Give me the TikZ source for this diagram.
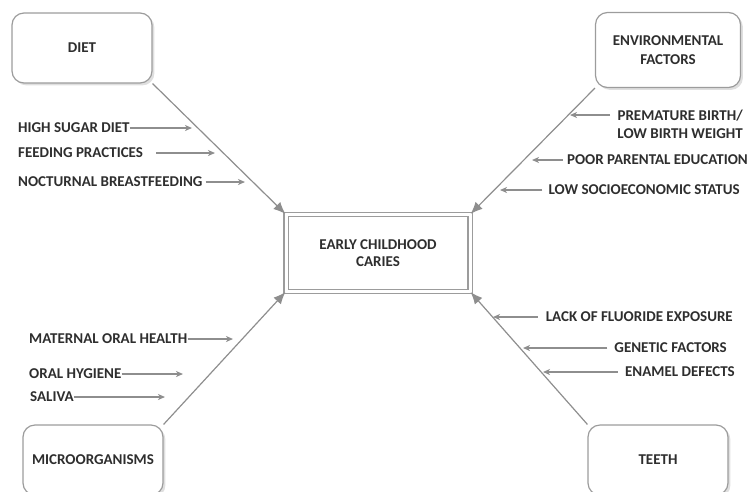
\documentclass[tikz,border=0pt]{standalone}
\usepackage{fontspec}
\setmainfont{Carlito}
\usetikzlibrary{shapes,arrows.meta,positioning,calc,shadows}

\definecolor{txtgray}{HTML}{2E2E2E}
\definecolor{arrgray}{HTML}{8E8E8E}
\definecolor{boxgray}{HTML}{9C9C9C}

\tikzset{
  factorbox/.style={draw=boxgray, line width=1.2pt, rounded corners=12pt, fill=white,
    minimum width=140pt, minimum height=70pt, align=center, text=txtgray,
    font=\bfseries\fontsize{15}{19}\selectfont, drop shadow={opacity=0.25}},
  centerbox/.style={draw=boxgray, line width=1.2pt, double=white, double distance=3pt,
    minimum width=184pt, minimum height=77pt, align=center, text=txtgray,
    font=\bfseries\fontsize{15}{17}\selectfont},
  factlabel/.style={inner sep=0pt, text=txtgray, font=\bfseries\fontsize{15}{18}\selectfont},
  factarrow/.style={draw=arrgray, line width=1.5pt, -{Stealth[length=7pt,width=6pt,inset=2pt]}},
  mainarrow/.style={draw=arrgray, line width=1.2pt, -{Latex[length=12pt,width=10pt]}}
}

\begin{document}
\begin{tikzpicture}[x=1pt, y=-1pt]
    \clip (0,0) rectangle (749,491);

    % boxes
    \node[factorbox] (diet) at (82,48) {DIET};
    \node[factorbox, minimum width=145pt, minimum height=75pt] (env) at (668,50) {ENVIRONMENTAL\\FACTORS};
    \node[centerbox] (ecc) at (378,253) {EARLY CHILDHOOD\\CARIES};
    \node[factorbox] (micro) at (93,460) {MICROORGANISMS};
    \node[factorbox] (teeth) at (658,460) {TEETH};

    \draw[mainarrow] (diet.south east) -- (ecc.north west);
    \draw[mainarrow] (env.south west) -- (ecc.north east);
    \draw[mainarrow] (micro.north east) -- (ecc.south west);
    \draw[mainarrow] (teeth.north west) -- (ecc.south east);

    % diet
    \node[factlabel, anchor=west] (hsd) at (18,128) {HIGH SUGAR DIET};
    \node[factlabel, anchor=west] (fp) at (18,153) {FEEDING PRACTICES};
    \node[factlabel, anchor=west] (nb) at (18,182) {NOCTURNAL BREASTFEEDING};
    \coordinate (hsd-t) at (192,128);
    \coordinate (fp-t) at (215,153);
    \coordinate (nb-t) at (245,182);
    \draw[factarrow] (hsd.east) -- (hsd-t);
    \draw[factarrow] ([xshift=13pt]fp.east) -- (fp-t);
    \draw[factarrow] ([xshift=3pt]nb.east) -- (nb-t);

    % environmental factors
    \node[factlabel, anchor=east, align=center] (pb) at (743,124) {PREMATURE BIRTH/\\LOW BIRTH WEIGHT};
    \node[factlabel, anchor=east] (ppe) at (748,160) {POOR PARENTAL EDUCATION};
    \node[factlabel, anchor=east] (lss) at (740,190) {LOW SOCIOECONOMIC STATUS};
    \coordinate (pb-t) at (570,115);
    \coordinate (ppe-t) at (532,160);
    \coordinate (lss-t) at (500,190);
    \draw[factarrow] (610,115) -- (pb-t);
    \draw[factarrow] ([xshift=-4pt]ppe.west) -- (ppe-t);
    \draw[factarrow] ([xshift=-6pt]lss.west) -- (lss-t);

    % microorganisms
    \node[factlabel, anchor=west] (moh) at (29,339) {MATERNAL ORAL HEALTH};
    \node[factlabel, anchor=west] (oh) at (29,374) {ORAL HYGIENE};
    \node[factlabel, anchor=west] (sal) at (30,397) {SALIVA};
    \coordinate (moh-t) at (233,339);
    \coordinate (oh-t) at (183,374);
    \coordinate (sal-t) at (165,397);
    \draw[factarrow] (moh.east) -- (moh-t);
    \draw[factarrow] (oh.east) -- (oh-t);
    \draw[factarrow] (sal.east) -- (sal-t);

    % teeth
    \node[factlabel, anchor=east] (lfe) at (733,317) {LACK OF FLUORIDE EXPOSURE};
    \node[factlabel, anchor=east] (gf) at (727,348) {GENETIC FACTORS};
    \node[factlabel, anchor=east] (ed) at (735,372) {ENAMEL DEFECTS};
    \coordinate (lfe-t) at (493,317);
    \coordinate (gf-t) at (523,348);
    \coordinate (ed-t) at (543,372);
    \draw[factarrow] ([xshift=-8pt]lfe.west) -- (lfe-t);
    \draw[factarrow] ([xshift=-7pt]gf.west) -- (gf-t);
    \draw[factarrow] ([xshift=-7pt]ed.west) -- (ed-t);
\end{tikzpicture}
\end{document}
